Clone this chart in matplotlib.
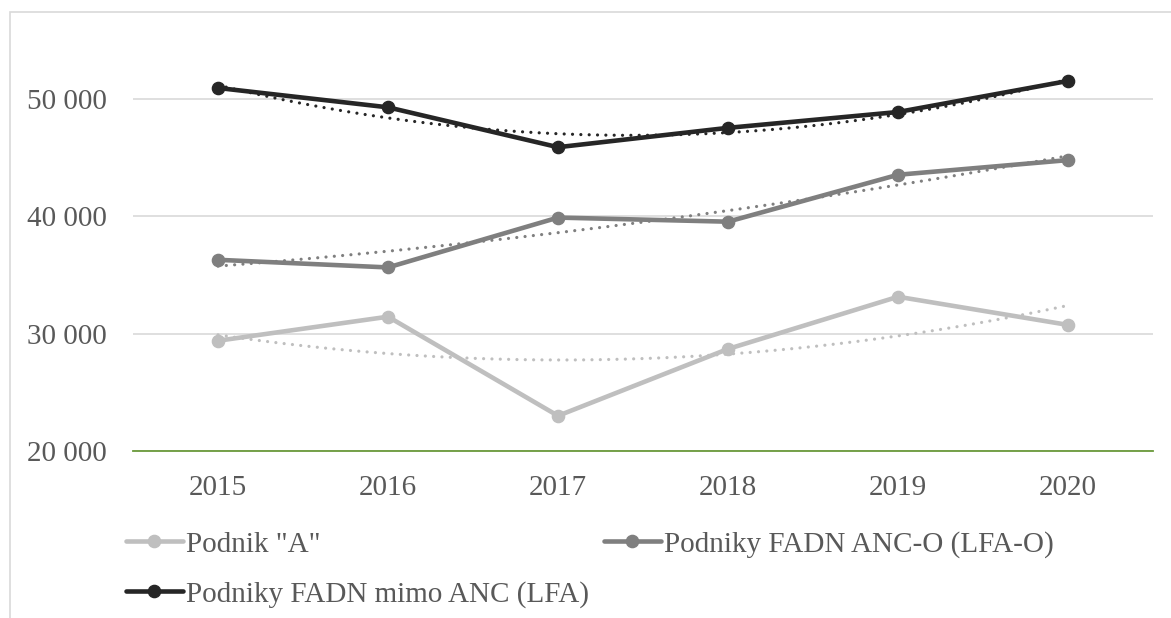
import numpy as np
import matplotlib
matplotlib.use("Agg")
import matplotlib.pyplot as plt
from matplotlib.patches import Rectangle
from matplotlib.ticker import FuncFormatter

years = ["2015", "2016", "2017", "2018", "2019", "2020"]
podnik_a = [29400, 31450, 23000, 28700, 33150, 30750]
fadn_anc_o = [36300, 35650, 39900, 39550, 43550, 44800]
fadn_mimo = [50950, 49300, 45900, 47550, 48900, 51550]

labels = ['Podnik "A"', "Podniky FADN ANC-O (LFA-O)", "Podniky FADN mimo ANC (LFA)"]
colors = ["#BFBFBF", "#7F7F7F", "#262626"]

plt.rcParams["font.family"] = ["Liberation Serif", "DejaVu Serif"]

W, H = 1171, 618
fig = plt.figure(figsize=(W / 100, H / 100), dpi=100)

# chart border (only top/left visible in the crop)
fig.patches.append(Rectangle((10 / W, -0.1), 1.2, 1 - 12 / H + 0.1,
                             transform=fig.transFigure, fill=False,
                             edgecolor="#D9D9D9", linewidth=1.2))

# plot area
left, right = 133 / W, 1153 / W
bottom, top = 1 - 451 / H, 1 - 17 / H
ax = fig.add_axes([left, bottom, right - left, top - bottom])

x = np.arange(len(years))
series = [podnik_a, fadn_anc_o, fadn_mimo]
handles = []
for vals, col, lab in zip(series, colors, labels):
    # polynomial (order 2) trend line
    coef = np.polyfit(x, vals, 2)
    xs = np.linspace(0, len(years) - 1, 200)
    ax.plot(xs, np.polyval(coef, xs), color=col, lw=2.3,
            linestyle=(0, (0.01, 2.6)), dash_capstyle="round", zorder=2)
    h, = ax.plot(x, vals, color=col, lw=3.3, marker="o", markersize=8.8,
                 solid_capstyle="round", label=lab, zorder=3)
    handles.append(h)

ax.set_xlim(-0.5, len(years) - 0.5)
ax.set_ylim(20000, 57000)
ax.set_yticks([20000, 30000, 40000, 50000])
ax.yaxis.set_major_formatter(FuncFormatter(lambda v, p: f"{v:,.0f}".replace(",", " ")))
ax.set_xticks(x)
ax.set_xticklabels(years)
ax.grid(axis="y", color="#D9D9D9", linewidth=1.2)
ax.set_axisbelow(True)
for s in ["top", "right", "left"]:
    ax.spines[s].set_visible(False)
ax.spines["bottom"].set_color("#6A9A3A")
ax.spines["bottom"].set_linewidth(1.3)
ax.tick_params(axis="both", length=0, labelsize=21, labelcolor="#595959")
ax.tick_params(axis="y", pad=19)
ax.tick_params(axis="x", pad=17)

# legend: col 1 = A, mimo; col 2 = ANC-O
leg = fig.legend([handles[0], handles[2], handles[1]],
                 [labels[0], labels[2], labels[1]],
                 ncol=2, loc="upper left", bbox_to_anchor=(126 / W, 1 - 531 / H),
                 frameon=False, fontsize=21, handlelength=1.95,
                 handletextpad=0.12, columnspacing=0.5, labelspacing=0.8,
                 borderaxespad=0, borderpad=0)
for t in leg.get_texts():
    t.set_color("#595959")

fig.savefig("out.png", dpi=100)
